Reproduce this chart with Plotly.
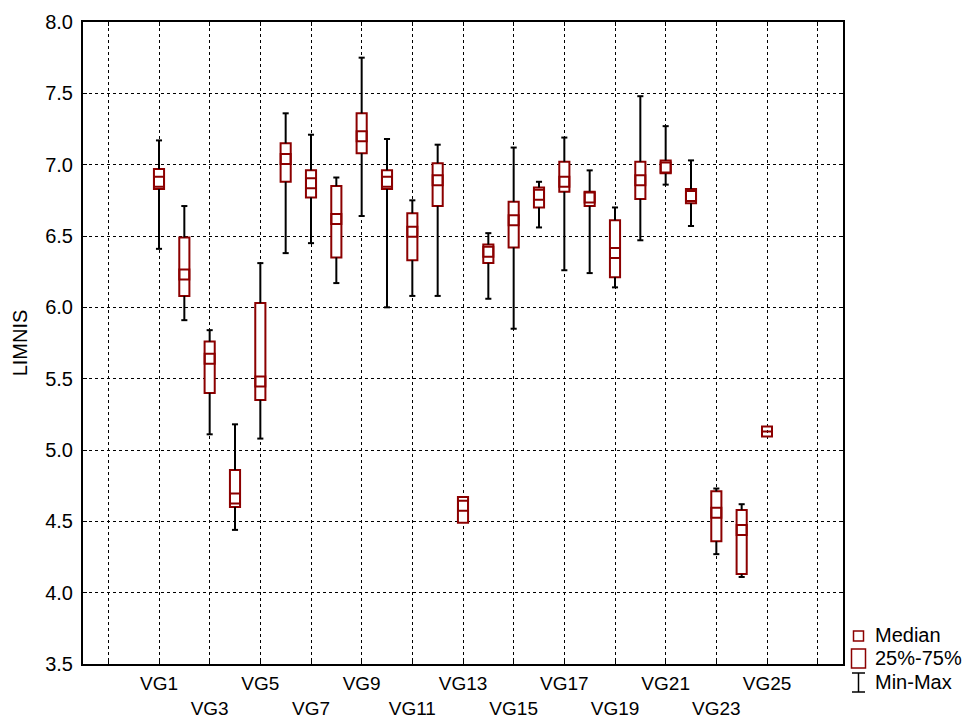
import plotly.graph_objects as go

# ---- data ----
groups = [f"VG{i}" for i in range(1, 26)]
positions = list(range(1, 26))
vmin = [6.41, 5.91, 5.11, 4.44, 5.08, 6.38, 6.45, 6.17, 6.64, 6.00, 6.08, 6.08, 4.49,
        6.06, 5.85, 6.56, 6.26, 6.24, 6.14, 6.47, 6.86, 6.57, 4.27, 4.11, 5.13]
q1 = [6.83, 6.08, 5.40, 4.60, 5.35, 6.88, 6.77, 6.35, 7.08, 6.83, 6.33, 6.71, 4.49,
      6.31, 6.42, 6.70, 6.81, 6.71, 6.21, 6.76, 6.94, 6.73, 4.36, 4.13, 5.13]
median = [6.88, 6.23, 5.64, 4.66, 5.48, 7.04, 6.87, 6.62, 7.20, 6.88, 6.53, 6.89, 4.61,
          6.39, 6.61, 6.79, 6.88, 6.77, 6.38, 6.89, 6.98, 6.78, 4.56, 4.44, 5.13]
q3 = [6.97, 6.49, 5.76, 4.86, 6.03, 7.15, 6.96, 6.85, 7.36, 6.96, 6.66, 7.01, 4.67,
      6.44, 6.74, 6.84, 7.02, 6.81, 6.61, 7.02, 7.03, 6.83, 4.71, 4.58, 5.13]
vmax = [7.17, 6.71, 5.84, 5.18, 6.31, 7.36, 7.21, 6.91, 7.75, 7.18, 6.75, 7.14, 4.67,
        6.52, 7.12, 6.88, 7.19, 6.96, 6.70, 7.48, 7.27, 7.03, 4.73, 4.62, 5.13]

y_ticks = [3.5, 4.0, 4.5, 5.0, 5.5, 6.0, 6.5, 7.0, 7.5, 8.0]
x_grid = list(range(-1, 28, 2))
x_ticktext = []
for v in x_grid:
    if 1 <= v <= 25:
        lab = f"VG{v}"
        x_ticktext.append(lab if ((v - 1) // 2) % 2 == 0 else "<br>" + lab)
    else:
        x_ticktext.append("")

RED = "rgb(140,0,0)"
FONT = "Liberation Sans, Arial, sans-serif"
FS = 20
CAP = 0.12

# whiskers (segments outside the box, with caps)
wx, wy = [], []
for p, lo, a, b, hi in zip(positions, vmin, q1, q3, vmax):
    if hi > b:
        wx += [p, p, None, p - CAP, p + CAP, None]
        wy += [b, hi, None, hi, hi, None]
    if lo < a:
        wx += [p, p, None, p - CAP, p + CAP, None]
        wy += [lo, a, None, lo, lo, None]

fig = go.Figure()
fig.add_trace(go.Bar(
    x=positions, base=q1, y=[b - a for a, b in zip(q1, q3)], width=0.40,
    marker=dict(color="white", line=dict(color=RED, width=2)),
    showlegend=False, hoverinfo="skip"))
fig.add_trace(go.Scatter(
    x=wx, y=wy, mode="lines", line=dict(color="black", width=2),
    showlegend=False, hoverinfo="skip"))
fig.add_trace(go.Scatter(
    x=positions, y=median, mode="markers",
    marker=dict(symbol="square-open", size=10, color=RED, line=dict(color=RED, width=2)),
    showlegend=False, text=groups))

W, H = 966, 719
PL, PR, PT, PB = 83, 843, 22, 664  # plot area in page pixels
L, R, T, B = PL, W - PR, PT, H - PB
pw, ph = PR - PL, PB - PT


def px(x):
    return (x - PL) / pw


def py(y):
    return (PB - y) / ph


shapes = [
    dict(type="rect", xref="paper", yref="paper", x0=px(853.5), x1=px(863.5), y0=py(641), y1=py(631),
         line=dict(color=RED, width=1.5), fillcolor="white"),
    dict(type="rect", xref="paper", yref="paper", x0=px(851.5), x1=px(865.5), y0=py(668), y1=py(649),
         line=dict(color=RED, width=1.5), fillcolor="white"),
    dict(type="line", xref="paper", yref="paper", x0=px(858.5), x1=px(858.5), y0=py(692), y1=py(673),
         line=dict(color="black", width=1.5)),
    dict(type="line", xref="paper", yref="paper", x0=px(852), x1=px(865), y0=py(673), y1=py(673),
         line=dict(color="black", width=1.5)),
    dict(type="line", xref="paper", yref="paper", x0=px(852), x1=px(865), y0=py(692), y1=py(692),
         line=dict(color="black", width=1.5)),
]
legend_labels = ["Median", "25%-75%", "Min-Max"]
legend_y = [635, 658, 682]
annotations = [
    dict(text=t, xref="paper", yref="paper", x=px(873), y=py(yy), xanchor="left", yanchor="middle",
         showarrow=False, font=dict(size=FS, color="black", family=FONT))
    for t, yy in zip(legend_labels, legend_y)
]

fig.update_layout(
    width=W, height=H,
    margin=dict(l=L, r=R, t=T, b=B, autoexpand=False),
    paper_bgcolor="white", plot_bgcolor="white",
    font=dict(family=FONT, size=FS, color="black"),
    barmode="overlay",
    shapes=shapes, annotations=annotations,
    showlegend=False,
)
fig.update_xaxes(
    range=[-2, 28], tickmode="array", tickvals=x_grid, ticktext=x_ticktext,
    showgrid=True, gridcolor="black", griddash="dot", gridwidth=1,
    showline=True, linecolor="black", linewidth=2, mirror="ticks",
    ticks="inside", ticklen=4, tickcolor="black", tickwidth=1,
    zeroline=False, tickangle=0, ticklabelstandoff=1, automargin=False,
    tickfont=dict(size=19, family=FONT),
)
fig.update_yaxes(
    range=[3.5, 8.0], tickmode="array", tickvals=y_ticks, tickformat=".1f",
    showgrid=True, gridcolor="black", griddash="dot", gridwidth=1,
    showline=True, linecolor="black", linewidth=2, mirror="ticks",
    ticks="inside", ticklen=4, tickcolor="black", tickwidth=1,
    zeroline=False, ticklabelstandoff=4, automargin=False,
    tickfont=dict(size=FS, family=FONT),
    title=dict(text="LIMNIS", font=dict(size=FS, family=FONT), standoff=12),
)

fig.write_html("out.html", config={"displayModeBar": False},
               post_script="document.body.style.margin='0px';")
